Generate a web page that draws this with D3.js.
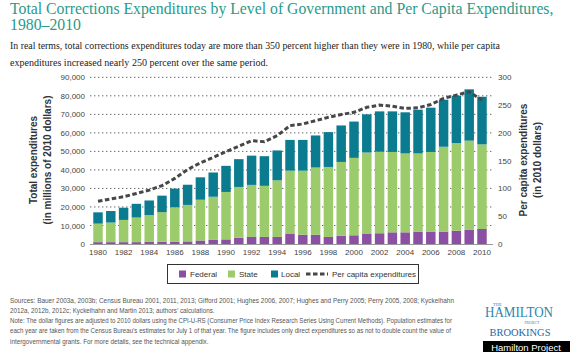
<!DOCTYPE html>
<html>
<head>
<meta charset="utf-8">
<script src="https://cdnjs.cloudflare.com/ajax/libs/d3/7.8.5/d3.min.js"></script>
<style>
  body { margin: 0; background: #fff; }
  svg { display: block; }
  text { font-family: "Liberation Sans", Arial, sans-serif; }
  .serif { font-family: "Liberation Serif", "Times New Roman", serif; }
</style>
</head>
<body>
<div id="chart"></div>
<script>
// values (millions of 2010 dollars / dollars per person)
var years = d3.range(1980, 2011)
var federal = [1000, 1000, 1000, 1000, 1300, 1300, 1300, 1400, 1900, 2200,
  2500, 3400, 3800, 3800, 3800, 5400, 5000, 5000, 3800, 4500,
  4700, 5400, 5800, 6300, 6300, 6700, 6700, 6700, 7200, 7600, 8100]
var state = [10000, 10600, 12000, 13300, 14300, 15900, 18500, 19700, 22000, 23300,
  25600, 27400, 28100, 27600, 30600, 34200, 34600, 36300, 37800, 39800,
  41800, 44000, 44000, 43400, 42600, 42200, 43000, 45800, 47300, 48200, 45700]
var local = [6100, 6200, 6600, 7400, 7900, 8900, 10100, 10900, 12100, 13100,
  14100, 15000, 15800, 16000, 16100, 16600, 16600, 17300, 18800, 19700,
  19600, 20600, 21800, 21900, 22200, 23600, 23900, 25400, 25500, 27700, 25700]
var perCapita = [77, 81, 85, 91, 97, 105, 118, 134, 146, 156,
  166, 176, 186, 184, 195, 213, 216, 222, 228, 233,
  237, 246, 250, 248, 244, 245, 251, 262, 268, 274, 259]

var leftTicks = [0, 10000, 20000, 30000, 40000, 50000, 60000, 70000, 80000, 90000]
var rightTicks = [0, 50, 100, 150, 200, 250, 300]
var yearTicks = d3.range(1980, 2011, 2)

var colors = { federal: "#8b4fa3", state: "#9ccb6b", local: "#0b7b8f" }

var width = 570, height = 352
var plot = { left: 90, right: 493, top: 77.3, bottom: 244 }

var svg = d3.select("#chart").append("svg")
  .attr("width", width)
  .attr("height", height)

// title + subtitle
var title1 = svg.append("text").attr("class", "serif")
  .attr("x", 10).attr("y", 14)
  .attr("font-size", 14.5).attr("fill", "#2a9a8c")
  .text("Total Corrections Expenditures by Level of Government and Per Capita Expenditures,")
// shrink the font so the line ends where the reference line ends
var titleSize = 14.5 * 544 / title1.node().getComputedTextLength()
title1.attr("font-size", titleSize)
svg.append("text").attr("class", "serif")
  .attr("x", 10).attr("y", 30)
  .attr("font-size", titleSize).attr("fill", "#2a9a8c")
  .text("1980\u20132010")
svg.append("text").attr("class", "serif")
  .attr("x", 10).attr("y", 49)
  .attr("font-size", 10.5).attr("fill", "#222")
  .attr("textLength", 490).attr("lengthAdjust", "spacingAndGlyphs")
  .text("In real terms, total corrections expenditures today are more than 350 percent higher than they were in 1980, while per capita")
svg.append("text").attr("class", "serif")
  .attr("x", 10).attr("y", 66)
  .attr("font-size", 10.5).attr("fill", "#222")
  .attr("textLength", 258).attr("lengthAdjust", "spacingAndGlyphs")
  .text("expenditures increased nearly 250 percent over the same period.")

// scales
var x = d3.scaleBand()
  .domain(years)
  .range([91.6, 488.4])
  .paddingInner(0.26)
  .paddingOuter(0.13)

var y = d3.scaleLinear()
  .domain([0, 90000])
  .range([plot.bottom, plot.top])

var y2 = d3.scaleLinear()
  .domain([0, 300])
  .range([plot.bottom, plot.top])

// gridlines
svg.append("g").selectAll("line")
  .data(leftTicks.slice(1))
  .join("line")
  .attr("x1", plot.left).attr("x2", plot.right)
  .attr("y1", function (d) { return y(d) }).attr("y2", function (d) { return y(d) })
  .attr("stroke", "#666").attr("stroke-width", 1)
  .attr("stroke-dasharray", "1.4,2.6")

// left axis
var leftAxis = svg.append("g")
  .attr("transform", "translate(" + (plot.left - 1) + ",0)")
  .call(d3.axisLeft(y).tickValues(leftTicks).tickSize(0).tickPadding(4)
    .tickFormat(d3.format(",")))
leftAxis.select(".domain").remove()
leftAxis.selectAll("text").attr("font-size", 8).attr("fill", "#444")
  .style("font-family", "Liberation Sans, Arial, sans-serif")

// right axis
var rightAxis = svg.append("g")
  .attr("transform", "translate(" + (plot.right + 1) + ",0)")
  .call(d3.axisRight(y2).tickValues(rightTicks).tickSize(0).tickPadding(4))
rightAxis.select(".domain").remove()
rightAxis.selectAll("text").attr("font-size", 8).attr("fill", "#444")
  .style("font-family", "Liberation Sans, Arial, sans-serif")

// stacked bars
var rows = years.map(function (yr, i) {
  return { year: yr, federal: federal[i], state: state[i], local: local[i] }
})
var stack = d3.stack().keys(["federal", "state", "local"])(rows)

svg.append("g").selectAll("g")
  .data(stack)
  .join("g")
  .attr("fill", function (d) { return colors[d.key] })
  .selectAll("rect")
  .data(function (d) { return d })
  .join("rect")
  .attr("x", function (d) { return x(d.data.year) })
  .attr("width", x.bandwidth())
  .attr("y", function (d) { return y(d[1]) })
  .attr("height", function (d) { return y(d[0]) - y(d[1]) })

// baseline
svg.append("line")
  .attr("x1", plot.left).attr("x2", plot.right)
  .attr("y1", y(0) + 0.5).attr("y2", y(0) + 0.5)
  .attr("stroke", "#999").attr("stroke-width", 1)

// per capita line
var line = d3.line()
  .x(function (d, i) { return x(years[i]) + x.bandwidth() / 2 })
  .y(function (d) { return y2(d) })

svg.append("path")
  .datum(perCapita)
  .attr("d", line)
  .attr("fill", "none")
  .attr("stroke", "#474747")
  .attr("stroke-width", 3)
  .attr("stroke-dasharray", "4.5,2.5")

// x axis labels
var xAxis = svg.append("g")
  .attr("transform", "translate(0," + plot.bottom + ")")
  .call(d3.axisBottom(x).tickValues(yearTicks).tickSize(0).tickPadding(5))
xAxis.select(".domain").remove()
xAxis.selectAll("text").attr("font-size", 8).attr("fill", "#444")
  .style("font-family", "Liberation Sans, Arial, sans-serif")

// axis titles
svg.append("text")
  .attr("transform", "translate(37,160) rotate(-90)")
  .attr("text-anchor", "middle").attr("font-size", 10).attr("font-weight", "bold").attr("fill", "#333")
  .text("Total expenditures")
svg.append("text")
  .attr("transform", "translate(51,160) rotate(-90)")
  .attr("text-anchor", "middle").attr("font-size", 10).attr("font-weight", "bold").attr("fill", "#333")
  .text("(in millions of 2010 dollars)")
svg.append("text")
  .attr("transform", "translate(527,160) rotate(-90)")
  .attr("text-anchor", "middle").attr("font-size", 10).attr("font-weight", "bold").attr("fill", "#333")
  .text("Per capita expenditures")
svg.append("text")
  .attr("transform", "translate(541,160) rotate(-90)")
  .attr("text-anchor", "middle").attr("font-size", 10).attr("font-weight", "bold").attr("fill", "#333")
  .text("(in 2010 dollars)")

// legend
var legend = svg.append("g")
legend.append("rect")
  .attr("x", 167.5).attr("y", 264.5).attr("width", 251).attr("height", 19)
  .attr("fill", "#fff").attr("stroke", "#333").attr("stroke-width", 1)
var legendItems = [
  { label: "Federal", key: "federal", sx: 179, tx: 190 },
  { label: "State", key: "state", sx: 228, tx: 239 },
  { label: "Local", key: "local", sx: 271, tx: 281 }
]
legendItems.forEach(function (d) {
  legend.append("rect")
    .attr("x", d.sx).attr("y", 270.5).attr("width", 7).attr("height", 7)
    .attr("fill", colors[d.key])
  legend.append("text")
    .attr("x", d.tx).attr("y", 277).attr("font-size", 8).attr("fill", "#333")
    .text(d.label)
})
legend.append("line")
  .attr("x1", 306).attr("x2", 328).attr("y1", 274).attr("y2", 274)
  .attr("stroke", "#474747").attr("stroke-width", 3).attr("stroke-dasharray", "4.5,2.5")
legend.append("text")
  .attr("x", 332).attr("y", 277).attr("font-size", 8).attr("fill", "#333")
  .text("Per capita expenditures")

// source notes
var notes = [
  ["Sources: Bauer 2003a, 2003b; Census Bureau 2001, 2011, 2013; Gifford 2001; Hughes 2006, 2007; Hughes and Perry 2005; Perry 2005, 2008; Kyckelhahn", 444],
  ["2012a, 2012b, 2012c; Kyckelhahn and Martin 2013; authors\u2019 calculations.", 0],
  ["Note: The dollar figures are adjusted to 2010 dollars using the CPI-U-RS (Consumer Price Index Research Series Using Current Methods). Population estimates for", 442],
  ["each year are taken from the Census Bureau\u2019s estimates for July 1 of that year. The figure includes only direct expenditures so as not to double count the value of", 441],
  ["intergovernmental grants. For more details, see the technical appendix.", 0]
]
notes.forEach(function (n, i) {
  var t = svg.append("text")
    .attr("x", 10).attr("y", 302.5 + i * 10.3)
    .attr("font-size", 6.3).attr("fill", "#555")
    .text(n[0])
  if (n[1]) t.attr("textLength", n[1]).attr("lengthAdjust", "spacingAndGlyphs")
})

// logo block
svg.append("text").attr("class", "serif")
  .attr("x", 493).attr("y", 305.5).attr("font-size", 4.5).attr("fill", "#2c86ad")
  .text("THE")
svg.append("text").attr("class", "serif")
  .attr("x", 519).attr("y", 317).attr("text-anchor", "middle")
  .attr("font-size", 14).attr("fill", "#2c86ad")
  .attr("textLength", 68).attr("lengthAdjust", "spacingAndGlyphs")
  .text("HAMILTON")
svg.append("text").attr("class", "serif")
  .attr("x", 532).attr("y", 324).attr("text-anchor", "middle")
  .attr("font-size", 3.5).attr("fill", "#2c86ad")
  .text("PROJECT")
svg.append("text").attr("class", "serif")
  .attr("x", 520).attr("y", 335.5).attr("text-anchor", "middle")
  .attr("font-size", 11).attr("fill", "#2966a6")
  .attr("textLength", 61).attr("lengthAdjust", "spacingAndGlyphs")
  .text("BROOKINGS")
svg.append("rect")
  .attr("x", 483).attr("y", 341).attr("width", 87).attr("height", 11)
  .attr("fill", "#000")
svg.append("text")
  .attr("x", 526).attr("y", 350.5).attr("text-anchor", "middle")
  .attr("font-size", 9.5).attr("fill", "#fff")
  .text("Hamilton Project")
</script>
</body>
</html>
